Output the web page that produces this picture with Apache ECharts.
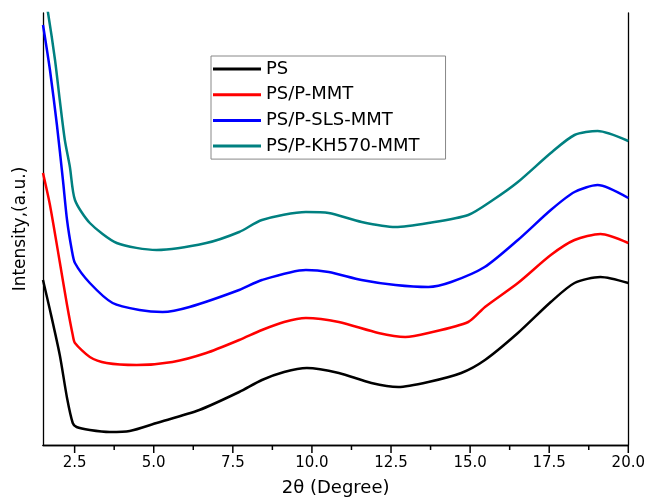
<!DOCTYPE html>
<html>
<head>
<meta charset="utf-8">
<script src="https://cdn.jsdelivr.net/npm/echarts@6/dist/echarts.min.js"></script>
<style>
  html, body { margin: 0; padding: 0; background: #fff; }
  #chart { width: 648px; height: 502px; }
</style>
</head>
<body>
<div id="chart"></div>
<script>
// series names as in the legend
const names = ['PS', 'PS/P-MMT', 'PS/P-SLS-MMT', 'PS/P-KH570-MMT'];

// 2theta (degree) / intensity (a.u.)
const psX = [1.5, 1.72, 2.03, 2.26, 2.44, 2.56, 2.98, 3.61, 4.24, 5.09, 6.44, 7.70, 8.42, 9.12, 9.84, 10.85, 11.88, 12.73, 13.68, 14.72, 15.47, 16.51, 17.55, 18.30, 19.12, 20.0];
const psY = [165, 135, 90, 47, 22, 18, 15, 13, 14, 22, 35, 53, 65, 73, 77, 72, 62, 58, 63, 72, 85, 112, 143, 162, 168, 162];

const mmtX = [1.5, 1.72, 2.03, 2.26, 2.44, 2.51, 2.98, 3.51, 4.46, 5.59, 6.66, 7.70, 8.42, 9.12, 9.81, 10.85, 12.10, 12.95, 13.68, 14.94, 15.47, 16.51, 17.55, 18.30, 19.12, 20.0];
const mmtY = [272, 240, 183, 140, 110, 102, 88, 82, 80, 83, 92, 105, 115, 123, 127, 123, 112, 108, 112, 123, 138, 162, 190, 205, 211, 202];

const slsX = [1.5, 1.72, 1.94, 2.13, 2.26, 2.41, 2.51, 2.98, 3.70, 4.55, 5.28, 6.13, 7.70, 8.42, 9.81, 10.53, 11.57, 12.64, 13.68, 14.40, 15.46, 16.51, 17.55, 18.30, 19.03, 20.0];
const slsY = [420, 375, 320, 265, 225, 195, 182, 162, 142, 135, 133, 138, 155, 165, 175, 173, 165, 160, 158, 163, 178, 205, 235, 253, 260, 247];

const khX = [1.5, 1.66, 1.88, 2.03, 2.19, 2.35, 2.51, 2.98, 3.83, 5.09, 6.66, 7.70, 8.42, 9.81, 10.53, 11.57, 12.64, 13.68, 14.94, 15.72, 16.51, 17.55, 18.30, 19.03, 20.0];
const khY = [460, 432, 385, 345, 305, 278, 245, 222, 202, 195, 202, 213, 225, 233, 232, 223, 218, 222, 230, 245, 263, 292, 310, 314, 304];

const majorTicks = [2.5, 5.0, 7.5, 10.0, 12.5, 15.0, 17.5, 20.0];
const minorTicks = [3.75, 6.25, 8.75, 11.25, 13.75, 16.25, 18.75];

const colors = ['#000000', '#ff0000', '#0000ff', '#008080'];
const font = 'DejaVu Sans';

function zip(xs, ys) {
    return xs.map((x, i) => [x, ys[i]]);
}

const chart = echarts.init(document.getElementById('chart'));

const curves = [zip(psX, psY), zip(mmtX, mmtY), zip(slsX, slsY), zip(khX, khY)];

// tick marks under the x axis: [value, length]
const tickData = majorTicks.map(v => [v, 8]).concat(minorTicks.map(v => [v, 5]));

const lineSeries = names.map((n, i) => ({
    name: n,
    type: 'line',
    data: curves[i],
    smooth: 0.25,
    showSymbol: false,
    clip: true,
    lineStyle: { width: 2.5, color: colors[i] }
}));

const tickSeries = {
    type: 'custom',
    clip: false,
    z: 10,
    data: tickData,
    renderItem: (params, api) => {
        const p = api.coord([api.value(0), 0]);
        return {
            type: 'line',
            shape: { x1: p[0], y1: p[1], x2: p[0], y2: p[1] + api.value(1) },
            style: { stroke: '#000', lineWidth: 1.5 }
        };
    }
};

const frameLine = { show: true, lineStyle: { color: '#000', width: 1.3 } };

chart.setOption({
    animation: false,
    backgroundColor: '#fff',
    color: colors,
    grid: { left: 43, right: 18, top: 13, bottom: 57 },
    legend: {
        orient: 'vertical',
        left: 211, top: 56,
        padding: [4, 26, 4, 2],
        itemWidth: 48, itemHeight: 3, itemGap: 7.7,
        icon: 'rect',
        borderColor: '#888', borderWidth: 1,
        textStyle: { fontFamily: font, fontSize: 18, lineHeight: 18, color: '#000' },
        data: names
    },
    xAxis: [
        {
            type: 'value', min: 1.5, max: 20,
            name: '2θ (Degree)', nameLocation: 'middle', nameGap: 34,
            nameTextStyle: { fontFamily: font, fontSize: 18, color: '#000' },
            axisLine: frameLine,
            axisTick: { show: false },
            axisLabel: {
                customValues: majorTicks, margin: 11,
                fontFamily: font, fontSize: 15, color: '#000',
                formatter: v => v.toFixed(1)
            },
            splitLine: { show: false }
        },
        {
            type: 'value', min: 1.5, max: 20, position: 'top',
            axisLine: frameLine,
            axisTick: { show: false },
            axisLabel: { show: false },
            splitLine: { show: false }
        }
    ],
    yAxis: [
        {
            type: 'value', min: 0, max: 432,
            name: 'Intensity,(a.u.)', nameLocation: 'middle', nameGap: 14,
            nameTextStyle: { fontFamily: font, fontSize: 17, color: '#000' },
            axisLine: frameLine,
            axisTick: { show: false },
            axisLabel: { show: false },
            splitLine: { show: false }
        },
        {
            type: 'value', min: 0, max: 432, position: 'right',
            axisLine: frameLine,
            axisTick: { show: false },
            axisLabel: { show: false },
            splitLine: { show: false }
        }
    ],
    series: lineSeries.concat([tickSeries])
});
</script>
</body>
</html>
